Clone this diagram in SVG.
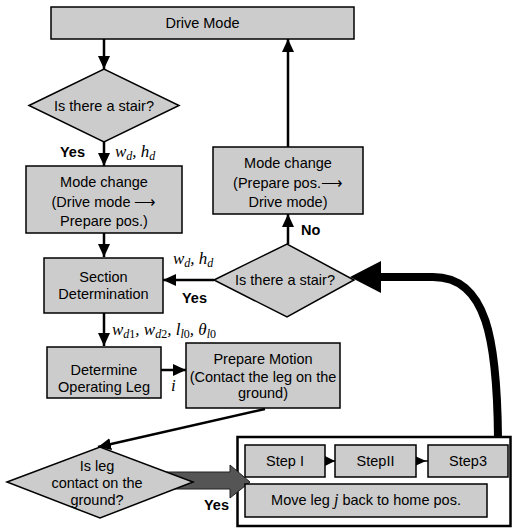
<svg xmlns="http://www.w3.org/2000/svg" width="513" height="528" viewBox="0 0 513 528">
<style>
.box{fill:#cccccc;stroke:#000;stroke-width:1.5}
.t{font-family:"Liberation Sans",Arial,sans-serif;font-size:14.5px;fill:#000;text-anchor:middle}
.b{font-family:"Liberation Sans",Arial,sans-serif;font-size:14.5px;font-weight:bold;fill:#000}
.m{font-family:"Liberation Serif","Times New Roman",serif;font-style:italic;font-size:17px;fill:#000}
.s{font-size:12px}
.u{font-style:normal}
.c{fill:none;stroke:#000;stroke-width:2.5}
</style>
<defs>
<marker id="ah" markerUnits="userSpaceOnUse" markerWidth="13" markerHeight="12" refX="13" refY="6" orient="auto">
<path d="M0,0 L13,6 L0,12 z" fill="#000"/>
</marker>
</defs>
<rect width="513" height="528" fill="#fff"/>
<g id="steps-container">
<rect x="237.5" y="437" width="273" height="89" fill="#fff" stroke="#000" stroke-width="2.5"/>
</g>
<g id="connectors">
<path class="c" d="M104,39 L104,69" marker-end="url(#ah)"/>
<path class="c" d="M104,142 L104,166" marker-end="url(#ah)"/>
<path class="c" d="M104,233 L104,257" marker-end="url(#ah)"/>
<path class="c" d="M214,280 L163,280" marker-end="url(#ah)"/>
<path class="c" d="M288,244 L288,214" marker-end="url(#ah)"/>
<path class="c" d="M288,147 L288,39" marker-end="url(#ah)"/>
<path class="c" d="M104,313 L104,346" marker-end="url(#ah)"/>
<path class="c" d="M161,370 L186,370" marker-end="url(#ah)"/>
<path class="c" d="M265,409 L98,447" marker-end="url(#ah)"/>
<path d="M498,437 C497,340 487,277 433,277 L378,277" fill="none" stroke="#000" stroke-width="8"/>
<polygon points="350,277 381,261 381,293" fill="#000"/>
<polygon points="160,472 230,472 230,465 250,482 230,498 230,489 160,489" fill="#555" stroke="#222" stroke-width="1"/>
<polygon points="325,456 335,461 325,466" fill="#000"/>
<line x1="333" y1="461" x2="336" y2="461" stroke="#000" stroke-width="1.5"/>
<polygon points="415,456 426,461 415,466" fill="#000"/>
<line x1="424" y1="461" x2="428" y2="461" stroke="#000" stroke-width="1.5"/>
</g>
<g id="labels">
<text class="b" x="60" y="157">Yes</text>
<text class="m" x="115" y="157">w<tspan class="s" dy="3">d</tspan><tspan dy="-3">, h</tspan><tspan class="s" dy="3">d</tspan></text>
<text class="m" x="173" y="264">w<tspan class="s" dy="3">d</tspan><tspan dy="-3">, h</tspan><tspan class="s" dy="3">d</tspan></text>
<text class="b" x="182" y="303">Yes</text>
<text class="b" x="301" y="235">No</text>
<text class="m" x="112" y="335">w<tspan class="s" dy="3">d<tspan class="u">1</tspan></tspan><tspan dy="-3">, w</tspan><tspan class="s" dy="3">d<tspan class="u">2</tspan></tspan><tspan dy="-3">, l</tspan><tspan class="s" dy="3">l<tspan class="u">0</tspan></tspan><tspan dy="-3">, θ</tspan><tspan class="s" dy="3">l<tspan class="u">0</tspan></tspan></text>
<text class="m" x="171" y="391">i</text>
<text class="b" x="204" y="510">Yes</text>
</g>
<g id="drive-mode">
<rect class="box" x="51" y="7" width="303" height="32"/>
<text class="t" x="202.5" y="28">Drive Mode</text>
</g>
<g id="stair-1">
<polygon class="box" points="29,105.5 104,69 179,105.5 104,142"/>
<text class="t" x="104" y="111">Is there a stair?</text>
</g>
<g id="mode-change-1">
<rect class="box" x="26" y="166" width="156" height="67"/>
<text class="t" x="104" y="187">Mode change</text>
<text class="t" x="104" y="207">(Drive mode ⟶</text>
<text class="t" x="104" y="226">Prepare pos.)</text>
</g>
<g id="mode-change-2">
<rect class="box" x="213" y="147" width="150" height="67"/>
<text class="t" x="288" y="168">Mode change</text>
<text class="t" x="288" y="188">(Prepare pos.⟶</text>
<text class="t" x="288" y="207">Drive mode)</text>
</g>
<g id="section">
<rect class="box" x="44" y="258" width="119" height="55"/>
<text class="t" x="103.5" y="282">Section</text>
<text class="t" x="103.5" y="299">Determination</text>
</g>
<g id="stair-2">
<polygon class="box" points="214,280 287,244 354,280 287,317"/>
<text class="t" x="285" y="285">Is there a stair?</text>
</g>
<g id="determine-leg">
<rect class="box" x="47" y="347" width="114" height="51"/>
<text class="t" x="104" y="375">Determine</text>
<text class="t" x="104" y="392">Operating Leg</text>
</g>
<g id="prepare-motion">
<rect class="box" x="186" y="343" width="154" height="65"/>
<text class="t" x="263" y="364">Prepare Motion</text>
<text class="t" x="263" y="382">(Contact the leg on the</text>
<text class="t" x="263" y="398">ground)</text>
</g>
<g id="leg-contact">
<polygon class="box" points="7,482 100,447 193,482 100,518"/>
<text class="t" x="97" y="471">Is leg</text>
<text class="t" x="97" y="488">contact on the</text>
<text class="t" x="97" y="505">ground?</text>
</g>
<g id="step1">
<rect class="box" x="245" y="445" width="80" height="32"/>
<text class="t" x="285" y="466">Step I</text>
</g>
<g id="step2">
<rect class="box" x="335" y="445" width="81" height="32"/>
<text class="t" x="375.5" y="466">StepII</text>
</g>
<g id="step3">
<rect class="box" x="428" y="445" width="80" height="32"/>
<text class="t" x="468" y="466">Step3</text>
</g>
<g id="move-leg">
<rect class="box" x="245" y="484" width="242" height="33"/>
<text class="t" x="366" y="505">Move leg <tspan font-family="Liberation Serif, serif" font-style="italic" font-size="16px">j</tspan> back to home pos.</text>
</g>
</svg>
